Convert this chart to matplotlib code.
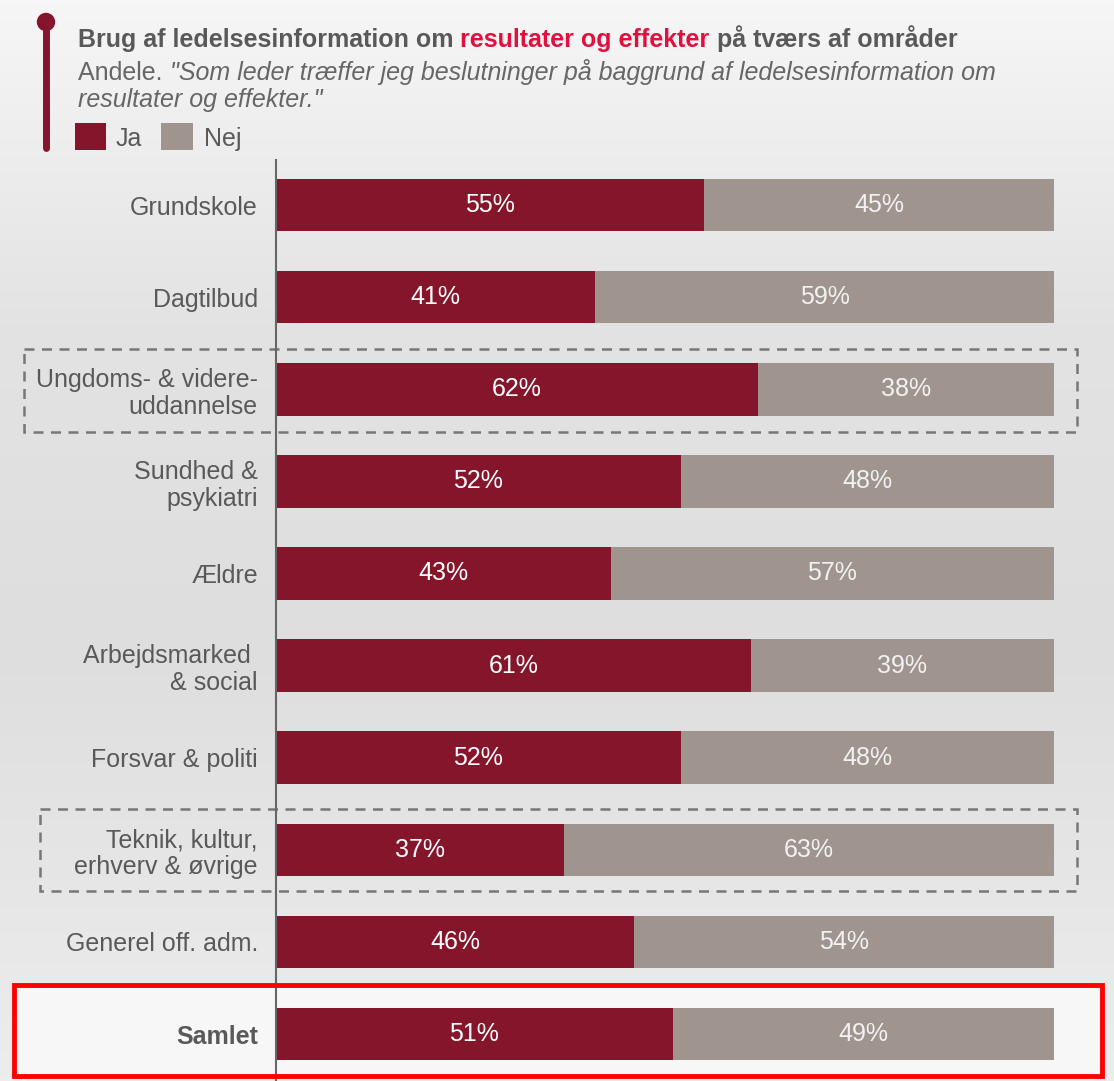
import numpy as np
import matplotlib
matplotlib.use("Agg")
import matplotlib.pyplot as plt
from matplotlib.patches import Rectangle, Circle
from matplotlib.colors import LinearSegmentedColormap

plt.rcParams['font.family'] = ['Liberation Sans', 'DejaVu Sans']

# data
categories = ["Grundskole", "Dagtilbud", "Ungdoms- & videre-\nuddannelse", "Sundhed &\npsykiatri",
              "Ældre", "Arbejdsmarked \n& social", "Forsvar & politi",
              "Teknik, kultur,\nerhverv & øvrige", "Generel off. adm.", "Samlet"]
ja = [55, 41, 62, 52, 43, 61, 52, 37, 46, 51]
nej = [45, 59, 38, 48, 57, 39, 48, 63, 54, 49]

JA_COL = "#85152a"
NEJ_COL = "#a0948e"
TXT = "#595959"
FS = 18

W, H = 1114, 1081
fig = plt.figure(figsize=(W / 100, H / 100), dpi=100)

# background axes in pixel coords
bg = fig.add_axes([0, 0, 1, 1])
bg.set_xlim(0, W)
bg.set_ylim(H, 0)
bg.axis("off")
grad = LinearSegmentedColormap.from_list("g", [(0, "#f6f6f6"), (0.3, "#e3e3e3"),
                                               (0.6, "#dedede"), (1, "#ededed")])
bg.imshow(np.linspace(0, 1, 256).reshape(-1, 1), cmap=grad, aspect="auto",
          extent=[0, W, H, 0], zorder=0)
# lighter area for Samlet
bg.add_patch(Rectangle((14, 985), 1088, 91, facecolor="#f7f7f7", edgecolor="none", zorder=1))

# pin
bg.plot([46, 46], [22, 148], color=JA_COL, lw=5, solid_capstyle="round", zorder=2)
bg.add_patch(Circle((46, 22), 8.5, color=JA_COL, zorder=3))

# title pieces
parts = [("Brug af ledelsesinformation om ", TXT), ("resultater og effekter", "#e0103f"),
         (" på tværs af områder", TXT)]
fig.canvas.draw()
r = fig.canvas.get_renderer()
x = 78
for s, c in parts:
    t = bg.text(x, 47, s, fontsize=FS, fontweight="bold", color=c, va="baseline", ha="left")
    x += t.get_window_extent(renderer=r).width
t0 = bg.text(78, 80, 'Andele. ', fontsize=FS, color="#666666", va="baseline")
wx = t0.get_window_extent(renderer=r).width
bg.text(78 + wx, 80, '"Som leder træffer jeg beslutninger på baggrund af ledelsesinformation om',
        fontsize=FS, style="italic", color="#666666", va="baseline")
bg.text(78, 107, 'resultater og effekter."', fontsize=FS, style="italic", color="#666666", va="baseline")

# legend
bg.add_patch(Rectangle((75, 123), 31, 27, facecolor=JA_COL, edgecolor="none"))
bg.text(116, 146, "Ja", fontsize=FS, color=TXT, va="baseline")
bg.add_patch(Rectangle((161, 123), 32, 27, facecolor=NEJ_COL, edgecolor="none"))
bg.text(204, 146, "Nej", fontsize=FS, color=TXT, va="baseline")

# dashed boxes
bg.add_patch(Rectangle((24, 349), 1053, 83, fill=False, edgecolor="#777777", lw=1.8,
                       linestyle=(0, (4, 3)), zorder=2))
bg.add_patch(Rectangle((40, 809), 1037, 82, fill=False, edgecolor="#777777", lw=1.8,
                       linestyle=(0, (4, 3)), zorder=2))

# main bar axes
left, right, top, bottom = 276, 1054, 160, 1081
ax = fig.add_axes([left / W, 1 - bottom / H, (right - left) / W, (bottom - top) / H])
ax.patch.set_alpha(0)
y = np.arange(len(categories))
ax.barh(y, ja, height=0.57, color=JA_COL)
ax.barh(y, nej, left=ja, height=0.57, color=NEJ_COL)
ax.set_xlim(0, 100)
ax.set_ylim(9.51, -0.489)
for s in ["top", "right", "bottom"]:
    ax.spines[s].set_visible(False)
ax.spines["left"].set_color("#666666")
ax.spines["left"].set_linewidth(1.5)
ax.set_xticks([])
ax.set_yticks(y)
ax.set_yticklabels(categories, fontsize=FS, color=TXT, linespacing=1.15)
ax.tick_params(axis="y", length=0, pad=13)
ax.get_yticklabels()[-1].set_fontweight("bold")
for i in y:
    ax.text(ja[i] / 2, i, f"{ja[i]}%", ha="center", va="center", color="white", fontsize=FS)
    ax.text(ja[i] + nej[i] / 2, i, f"{nej[i]}%", ha="center", va="center", color="#f2f2f2", fontsize=FS)

ov = fig.add_axes([0, 0, 1, 1])
ov.set_xlim(0, W)
ov.set_ylim(H, 0)
ov.axis("off")
ov.patch.set_alpha(0)
ov.add_patch(Rectangle((14, 985), 1088, 91, fill=False, edgecolor="#ff0000", lw=3.5))

fig.savefig("out.png", dpi=100)
